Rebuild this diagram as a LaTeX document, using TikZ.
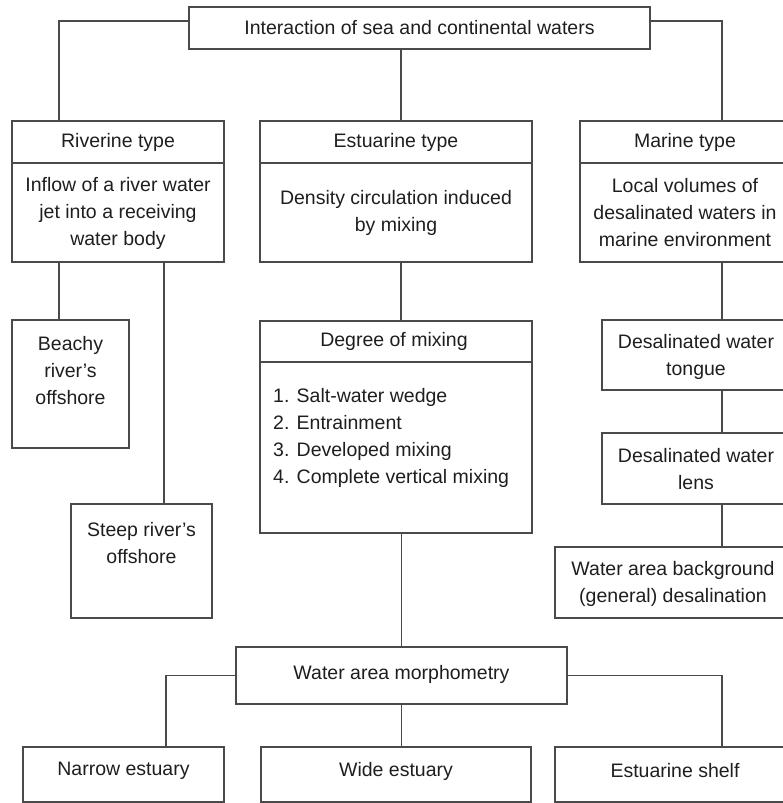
\documentclass[tikz,border=0pt]{standalone}
\usepackage{fontspec}
\setmainfont{Liberation Sans}
\begin{document}
\begin{tikzpicture}[x=1pt,y=-1pt,
  box/.style={draw=linegray,line width=1.3pt,rectangle,inner sep=0pt},
  txt/.style={text=textgray,align=center,inner sep=0pt,font=\fontsize{19.5}{27}\selectfont},
  conn/.style={draw=linegray,line width=1.3pt}]
\definecolor{linegray}{HTML}{4A4A4A}
\definecolor{textgray}{HTML}{1E1E1E}
\useasboundingbox (0,0) rectangle (783,803);
\clip (0,0) rectangle (783,803);
% boxes
\node[box,minimum width=461pt,minimum height=42pt] (top) at (419.5,28) {};
\node[box,minimum width=212pt,minimum height=42pt] (rivh) at (118,142) {};
\node[box,minimum width=212pt,minimum height=99pt] (rivb) at (118,212.5) {};
\node[box,minimum width=272pt,minimum height=42pt] (esth) at (396,142) {};
\node[box,minimum width=272pt,minimum height=99pt] (estb) at (396,212.5) {};
\node[box,minimum width=210pt,minimum height=42pt] (marh) at (685,142) {};
\node[box,minimum width=210pt,minimum height=99pt] (marb) at (685,212.5) {};
\node[box,minimum width=117pt,minimum height=128pt] (beachy) at (70.5,384) {};
\node[box,minimum width=141pt,minimum height=114pt] (steep) at (141.5,561) {};
\node[box,minimum width=272pt,minimum height=41pt] (degh) at (396,341.5) {};
\node[box,minimum width=272pt,minimum height=171pt] (degb) at (396,447.5) {};
\node[box,minimum width=188pt,minimum height=70pt] (tongue) at (696,355) {};
\node[box,minimum width=188pt,minimum height=71pt] (lens) at (696,468.5) {};
\node[box,minimum width=235pt,minimum height=71pt] (backg) at (672.5,582.5) {};
\node[box,minimum width=331pt,minimum height=57pt] (morph) at (401.5,675.5) {};
\node[box,minimum width=201pt,minimum height=55pt] (narrow) at (123.5,774.5) {};
\node[box,minimum width=270pt,minimum height=55pt] (wide) at (396,774.5) {};
\node[box,minimum width=235pt,minimum height=55pt] (shelf) at (672.5,774.5) {};
% texts
\node[txt] (ttop) at (419.5,28) {Interaction of sea and continental waters};
\node[txt] (trivh) at (118,142) {Riverine type};
\node[txt] (trivb) at (118,213) {Inflow of a river water\\jet into a receiving\\water body};
\node[txt] (testh) at (396,142) {Estuarine type};
\node[txt] (testb) at (396,212.5) {Density circulation induced\\by mixing};
\node[txt] (tmarh) at (685,142) {Marine type};
\node[txt] (tmarb) at (685,213) {Local volumes of\\desalinated waters in\\marine environment};
\node[txt] (tbeachy) at (70.5,371) {Beachy\\river’s\\offshore};
\node[txt] (tsteep) at (141.5,543) {Steep river’s\\offshore};
\node[txt] (tdegh) at (394,341.5) {Degree of mixing};
\node[txt,align=left,anchor=west] (tdegb) at (273,438) {1. Salt-water wedge\\2. Entrainment\\3. Developed mixing\\4. Complete vertical mixing};
\node[txt] (ttongue) at (696,356.5) {Desalinated water\\tongue};
\node[txt] (tlens) at (696,469.5) {Desalinated water\\lens};
\node[txt] (tbackg) at (673,583.5) {Water area background\\(general) desalination};
\node[txt] (tmorph) at (401.5,674) {Water area morphometry};
\node[txt] (tnarrow) at (123.5,771) {Narrow estuary};
\node[txt] (twide) at (396,771) {Wide estuary};
\node[txt] (tshelf) at (675,771) {Estuarine shelf};
% connectors
\draw[conn] ([yshift=7pt]top.west) -| ([xshift=-59pt]rivh.north);
\draw[conn] ([yshift=7pt]top.east) -| ([xshift=37pt]marh.north);
\draw[conn] ([xshift=5pt]esth.north) -- ([xshift=5pt]esth.north |- top.south);
\draw[conn] ([xshift=-11.5pt]beachy.north) -- ([xshift=-11.5pt]beachy.north |- rivb.south);
\draw[conn] ([xshift=22.5pt]steep.north) -- ([xshift=22.5pt]steep.north |- rivb.south);
\draw[conn] ([xshift=5pt]degh.north) -- ([xshift=5pt]degh.north |- estb.south);
\draw[conn] (morph.north) -- (morph.north |- degb.south);
\draw[conn] ([xshift=26pt]tongue.north) -- ([xshift=26pt]tongue.north |- marb.south);
\draw[conn] ([xshift=26pt]lens.north) -- ([xshift=26pt]lens.north |- tongue.south);
\draw[conn] ([xshift=49.5pt]backg.north) -- ([xshift=49.5pt]backg.north |- lens.south);
\draw[conn] (morph.west) -| ([xshift=42.5pt]narrow.north);
\draw[conn] (morph.east) -| ([xshift=49.5pt]shelf.north);
\draw[conn] (morph.south) -- (morph.south |- wide.north);
\end{tikzpicture}
\end{document}
